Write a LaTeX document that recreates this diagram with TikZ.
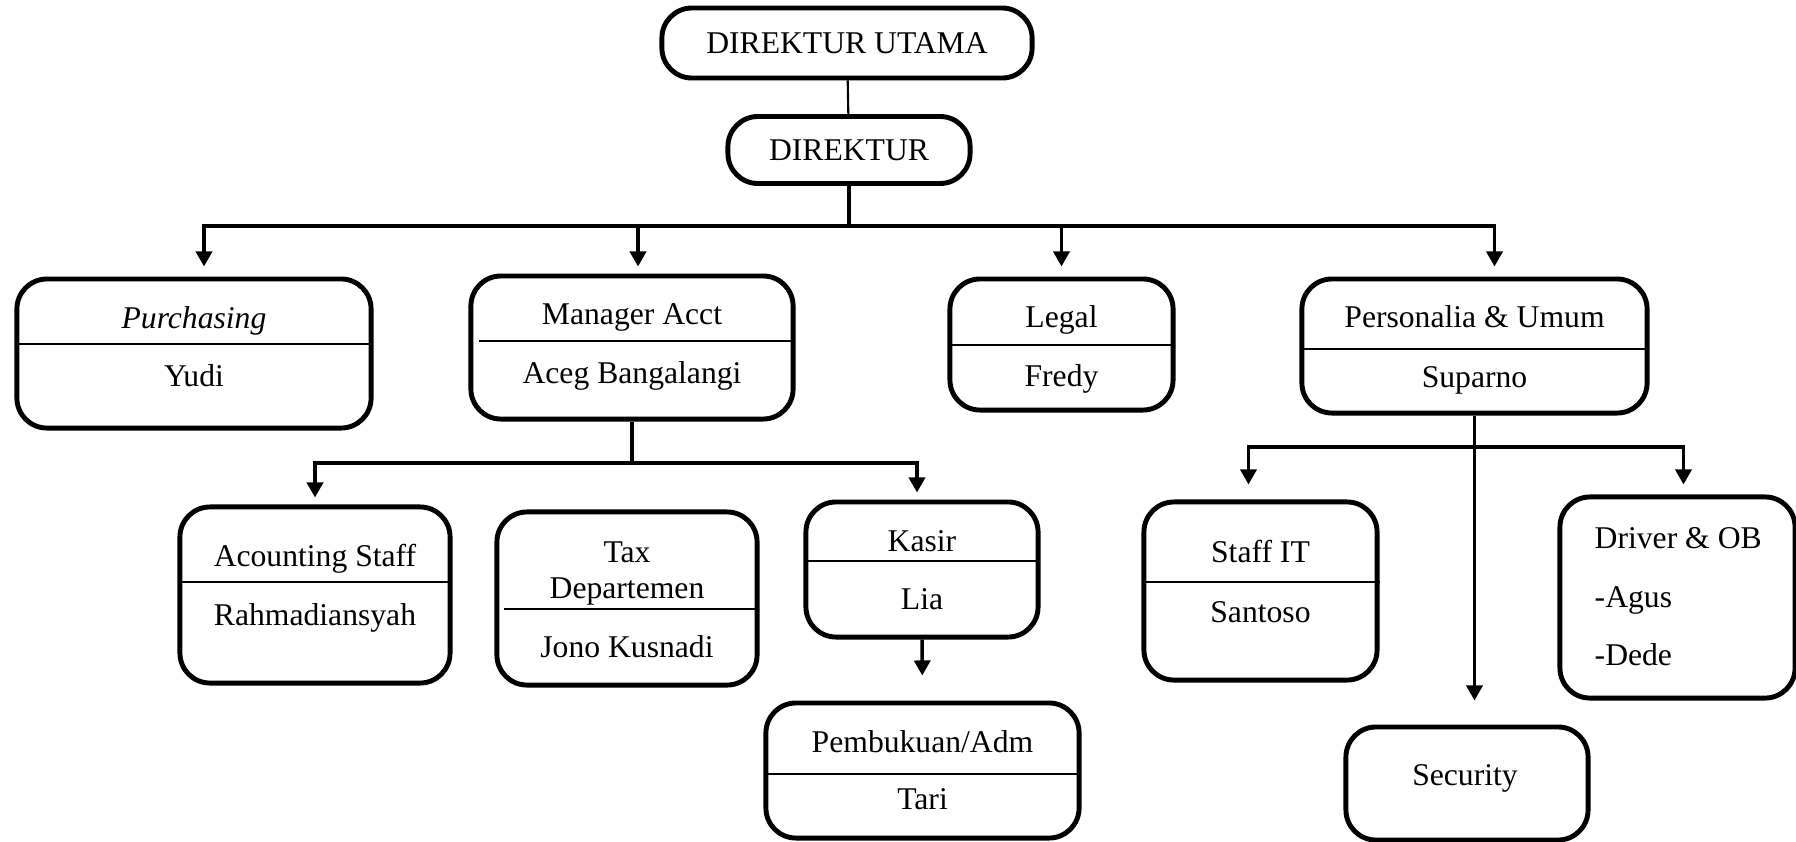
\documentclass[tikz,border=0pt]{standalone}
\usepackage{fontspec}
\setmainfont{LiberationSerif}[Extension=.ttf, UprightFont=*-Regular, ItalicFont=*-Italic, BoldFont=*-Bold, BoldItalicFont=*-BoldItalic]
\usetikzlibrary{arrows.meta}

\begin{document}
\begin{tikzpicture}
[
  x=0.01cm, y=-0.01cm,
  font=\rmfamily\fontsize{9}{11}\selectfont,
  >={Triangle[width=1.6mm,length=1.5mm]},
  box/.style = {draw, line width=1.4pt, rounded corners=3mm, inner sep=0pt},
  txt/.style = {inner sep=0pt, text height=6pt, text depth=0pt},
  divider/.style = {line width=0.6pt},
  conn/.style = {line width=1pt},
]

\useasboundingbox (0,0) rectangle (1796,842);

% top
\node (utama) at (847,43) [box, minimum width=3.70cm, minimum height=0.70cm] {DIREKTUR UTAMA};
\node (dir) at (849,150) [box, minimum width=2.42cm, minimum height=0.67cm] {DIREKTUR};

% first row
\node (purch) at (194,353.5) [box, minimum width=3.54cm, minimum height=1.49cm] {};
\node (mgr) at (632,347.5) [box, minimum width=3.22cm, minimum height=1.43cm] {};
\node (legal) at (1061.5,344.5) [box, minimum width=2.23cm, minimum height=1.31cm] {};
\node (pers) at (1474.5,346) [box, minimum width=3.45cm, minimum height=1.34cm] {};

\node (purch-t) at (194,318) [txt] {\textit{Purchasing}};
\node (purch-n) at (194,376) [txt] {Yudi};
\node (mgr-t) at (632,314) [txt] {Manager Acct};
\node (mgr-n) at (632,373) [txt] {Aceg Bangalangi};
\node (legal-t) at (1061.5,317) [txt] {Legal};
\node (legal-n) at (1061.5,376) [txt] {Fredy};
\node (pers-t) at (1474.5,317) [txt] {Personalia \& Umum};
\node (pers-n) at (1474.5,377) [txt] {Suparno};

\draw[divider] (17,344) -- (371,344);
\draw[divider] (479,341) -- (793,341);
\draw[divider] (950,345) -- (1173,345);
\draw[divider] (1302,349) -- (1647,349);

% second row
\node (acct) at (315,595) [box, minimum width=2.70cm, minimum height=1.76cm] {};
\node (tax) at (627,598.5) [box, minimum width=2.60cm, minimum height=1.73cm] {};
\node (kasir) at (922,569.5) [box, minimum width=2.32cm, minimum height=1.35cm] {};
\node (pemb) at (922.5,770.5) [box, minimum width=3.13cm, minimum height=1.35cm] {};
\node (staffit) at (1260.5,591) [box, minimum width=2.33cm, minimum height=1.78cm] {};
\node (driver) at (1677.5,597.5) [box, minimum width=2.35cm, minimum height=2.01cm] {};
\node (sec) at (1467,783.5) [box, minimum width=2.42cm, minimum height=1.13cm] {};

\node (acct-t) at (315,556) [txt] {Acounting Staff};
\node (acct-n) at (315,615) [txt] {Rahmadiansyah};
\node (tax-t1) at (627,552) [txt] {Tax};
\node (tax-t2) at (627,588) [txt] {Departemen};
\node (tax-n) at (627,647) [txt] {Jono Kusnadi};
\node (kasir-t) at (922,541) [txt] {Kasir};
\node (kasir-n) at (922,599) [txt] {Lia};
\node (pemb-t) at (922.5,742) [txt] {Pembukuan/Adm};
\node (pemb-n) at (922.5,799) [txt] {Tari};
\node (staffit-t) at (1260.5,552) [txt] {Staff IT};
\node (staffit-n) at (1260.5,612) [txt] {Santoso};
\node (driver-t) at (1594,538) [txt, anchor=west] {Driver \& OB};
\node (driver-1) at (1594,597) [txt, anchor=west] {-Agus};
\node (driver-2) at (1594,655) [txt, anchor=west] {-Dede};
\node (sec-t) at (1465,775) [txt] {Security};

\draw[divider] (180,582) -- (450,582);
\draw[divider] (504,609) -- (759,609);
\draw[divider] (806,561) -- (1038,561);
\draw[divider] (766,774) -- (1079,774);
\draw[divider] (1144,582) -- (1380,582);

% connectors
\coordinate (bus1) at (849,226);
\coordinate (bus2) at (632,463);
\coordinate (bus3) at (1474.5,447);

\draw[line width=0.6pt] (utama) -- (dir);
\draw[conn] (dir) -- (bus1);
\draw[conn,->,shorten >=1mm] (bus1) -| ([xshift=1mm]purch.north);
\draw[conn,->,shorten >=0.7mm] (bus1) -| ([xshift=0.6mm]mgr.north);
\draw[conn,->,shorten >=1mm] (bus1) -| (legal.north);
\draw[conn,->,shorten >=1mm] (bus1) -| ([xshift=2mm]pers.north);

\draw[conn] (mgr) -- (bus2);
\draw[conn,->,shorten >=0.7mm] (bus2) -| (acct.north);
\draw[conn,->,shorten >=0.7mm] (bus2) -| ([xshift=-0.5mm]kasir.north);
\draw[conn,->,shorten >=2.5mm] (kasir) -- (pemb);

\draw[conn,->,shorten >=2.4mm] (pers.south) -- (pers.south |- sec.north);
\draw[conn,->,shorten >=1.5mm] (bus3) -| ([xshift=-1.2mm]staffit.north);
\draw[conn,->,shorten >=1mm] (bus3) -| ([xshift=0.6mm]driver.north);

\end{tikzpicture}
\end{document}
